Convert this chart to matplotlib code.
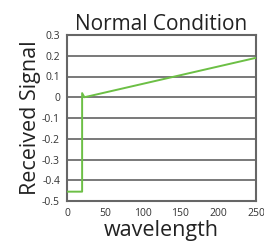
import matplotlib.pyplot as plt

wavelength = [0, 20, 20, 23, 250]
signal = [-0.455, -0.455, 0.02, 0.0, 0.19]
yticks = [0.3, 0.2, 0.1, 0, -0.1, -0.2, -0.3, -0.4, -0.5]
xticks = [0, 50, 100, 150, 200, 250]

plt.rcParams['font.family'] = ['Open Sans', 'DejaVu Sans']

fig = plt.figure(figsize=(2.64, 2.46), dpi=100)
ax = fig.add_axes([67 / 264, 1 - 201 / 246, 189 / 264, 166 / 246])

ax.plot(wavelength, signal, color='#6cbf45', lw=1.4, zorder=3)

ax.set_xlim(0, 250)
ax.set_ylim(-0.5, 0.3)
ax.set_xticks(xticks)
ax.set_yticks(yticks)
ax.set_yticklabels(['0' if v == 0 else f'{v:g}' for v in yticks])
ax.tick_params(length=0, labelsize=7.5, colors='#333333', pad=5)
ax.yaxis.grid(True, color='#555555', lw=1.1)
for s in ax.spines.values():
    s.set_color('#666666')
    s.set_linewidth(1.5)

ax.set_title('Normal Condition', fontsize=15, pad=3, color='#222222')
ax.set_xlabel('wavelength', fontsize=15.5, labelpad=1, color='#222222')
ax.set_ylabel('Received Signal', fontsize=15.5, labelpad=1, color='#222222')

fig.savefig('out.png', dpi=100)
